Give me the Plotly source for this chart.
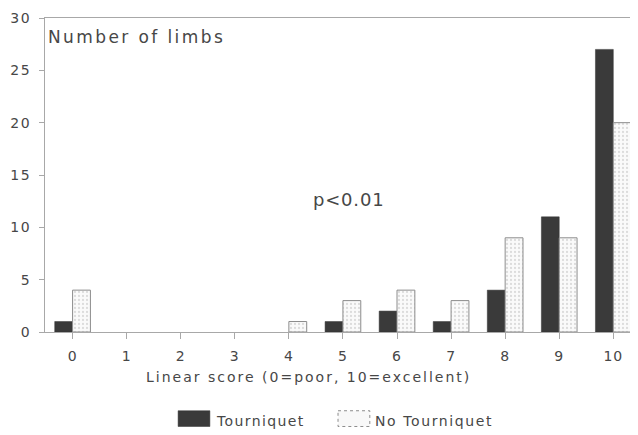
import plotly.graph_objects as go

scores = list(range(11))
tick_labels = [str(s) for s in scores]
y_tick_values = [0, 5, 10, 15, 20, 25, 30]
tourniquet = [1, 0, 0, 0, 0, 1, 2, 1, 4, 11, 27]
no_tourniquet = [4, 0, 0, 0, 1, 3, 4, 3, 9, 9, 20]
series_names = ["Tourniquet", "No Tourniquet"]
x_title = "Linear score (0=poor, 10=excellent)"

FONT = "DejaVu Sans, Arial, sans-serif"
TXT = "#474747"
AX = "#a8a8a8"


def spaced(t, px):
    return f'<span style="letter-spacing:{px}px">{t}</span>'


# page is drawn with an 8px body margin: size the figure so it fills 638x435
W, H = 630, 427
L, T, R, B = 33, 5, 2, 103
PW, PH = W - L - R, H - T - B


def px_x(x):  # page pixel -> paper x
    return (x - 8 - L) / PW


def px_y(y):  # page pixel -> paper y
    return (H - B - (y - 8)) / PH


fig = go.Figure()
fig.add_trace(go.Bar(
    x=scores, y=tourniquet, name=series_names[0],
    marker=dict(color="#3a3a3a",
                line=dict(color="#333333", width=[0 if v == 0 else 0.5 for v in tourniquet])),
))
fig.add_trace(go.Bar(
    x=scores, y=no_tourniquet, name=series_names[1],
    marker=dict(color="#f6f6f6",
                line=dict(color="#8c8c8c", width=[0 if v == 0 else 1 for v in no_tourniquet]),
                pattern=dict(shape=".", fgcolor="#bdbdbd", bgcolor="#fafafa", size=4, solidity=0.25)),
))

fig.update_layout(
    width=W, height=H,
    margin=dict(l=L, r=R, t=T, b=B),
    paper_bgcolor="white", plot_bgcolor="white",
    barmode="group", bargap=0.34, bargroupgap=0,
    showlegend=False,
    font=dict(family=FONT, color=TXT, size=14),
    xaxis=dict(
        range=[-0.51, 10.42], tickmode="array", tickvals=scores,
        ticktext=[spaced(t, 1) for t in tick_labels],
        showline=True, linecolor=AX, linewidth=1, mirror=True,
        ticks="outside", ticklen=6, tickcolor=AX, ticklabelstandoff=5,
        showgrid=False, zeroline=False,
        tickfont=dict(size=14, color=TXT),
    ),
    yaxis=dict(
        range=[0, 30], tickmode="array", tickvals=y_tick_values,
        ticktext=[spaced(str(v), 1.5) for v in y_tick_values],
        showline=True, linecolor=AX, linewidth=1,
        ticks="outside", ticklen=5, tickcolor=AX, ticklabelstandoff=5,
        ticklabeloverflow="allow",
        showgrid=False, zeroline=False,
        tickfont=dict(size=14, color=TXT),
    ),
)

# x-axis title (sits left of the plot centre in the reference)
fig.add_annotation(text=spaced(x_title, 2.0), xref="paper", yref="paper",
                   x=px_x(306), y=px_y(378), xanchor="center", yanchor="middle", showarrow=False,
                   font=dict(size=14, color=TXT, family=FONT))
fig.add_annotation(text=spaced("Number of limbs", 2.4), xref="paper", yref="paper",
                   x=px_x(42), y=px_y(32), xanchor="left", yanchor="middle", showarrow=False,
                   font=dict(size=17, color=TXT, family=FONT))
fig.add_annotation(text=spaced("p<0.01", 0.8), xref="paper", yref="paper",
                   x=px_x(347), y=px_y(197), xanchor="center", yanchor="middle", showarrow=False,
                   font=dict(size=18, color=TXT, family=FONT))

# Legend (manual, wide swatches as in the reference)
fig.add_shape(type="rect", xref="paper", yref="paper", x0=px_x(175), x1=px_x(207),
              y0=px_y(412), y1=px_y(428),
              fillcolor="#3a3a3a", line=dict(color="#333333", width=0.5))
fig.add_annotation(text=spaced(series_names[0], 1.4), xref="paper", yref="paper",
                   x=px_x(211), y=px_y(422), xanchor="left", yanchor="middle", showarrow=False,
                   font=dict(size=14, color=TXT))
fig.add_shape(type="rect", xref="paper", yref="paper", x0=px_x(336), x1=px_x(368),
              y0=px_y(412), y1=px_y(428),
              fillcolor="#f8f8f8", line=dict(color="#8c8c8c", width=1, dash="dot"))
fig.add_annotation(text=spaced(series_names[1], 1.6), xref="paper", yref="paper",
                   x=px_x(371), y=px_y(422), xanchor="left", yanchor="middle", showarrow=False,
                   font=dict(size=14, color=TXT))

fig.write_html("out.html")
